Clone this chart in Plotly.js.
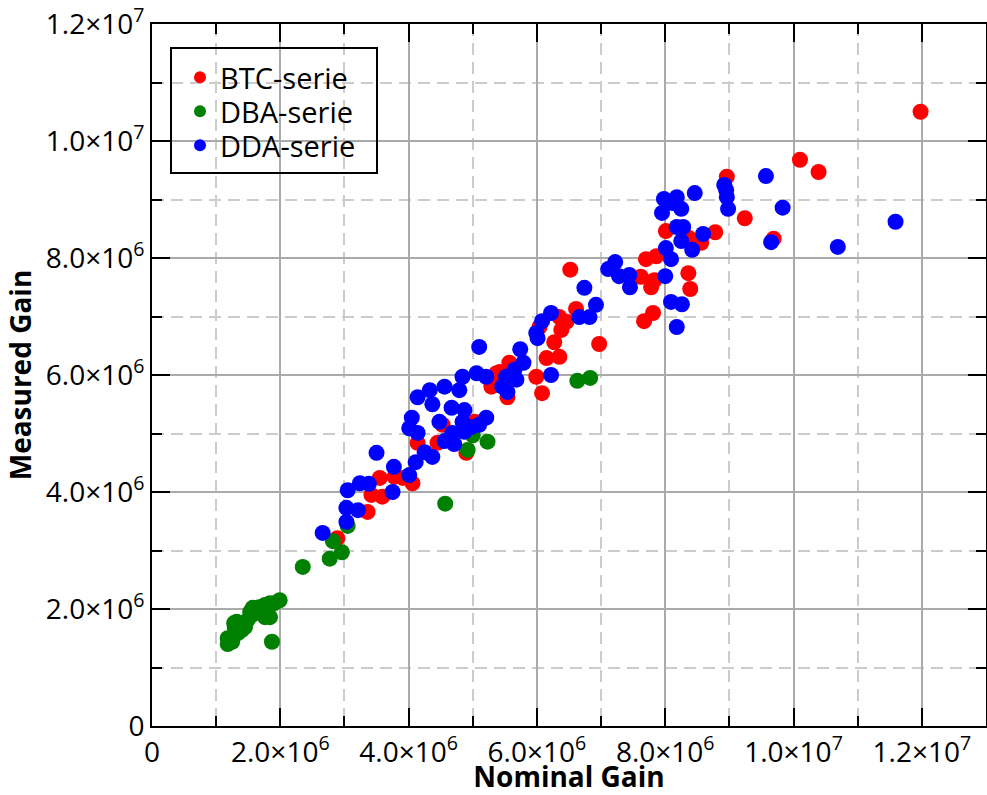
<!DOCTYPE html>
<html>
<head>
<meta charset="utf-8">
<script src="https://cdn.plot.ly/plotly-3.0.1.min.js"></script>
<style>
  html, body { margin: 0; padding: 0; background: #ffffff; }
  #chart { width: 987px; height: 795px; }
</style>
</head>
<body>
<div id="chart"></div>
<script>
// ---- Data ----
const seriesNames = ["BTC-serie", "DBA-serie", "DDA-serie"];

const btcNominal = [11.98e6, 10.10e6, 10.39e6, 8.96e6, 9.24e6, 9.69e6, 8.78e6, 8.01e6, 8.37e6, 8.56e6,
  7.70e6, 7.86e6, 6.52e6, 7.62e6, 7.83e6, 7.78e6, 8.36e6, 8.39e6, 7.67e6, 7.81e6,
  6.97e6, 6.61e6, 6.35e6, 6.46e6, 6.38e6, 6.27e6, 6.15e6, 6.35e6, 5.57e6, 5.99e6,
  6.08e6, 5.54e6, 6.04e6, 5.42e6, 5.37e6, 5.29e6, 5.03e6, 4.90e6, 4.53e6, 4.45e6,
  4.14e6, 3.55e6, 3.78e6, 3.91e6, 4.06e6, 3.42e6, 3.59e6, 3.36e6, 2.89e6];
const btcMeasured = [10.50e6, 9.68e6, 9.47e6, 9.39e6, 8.68e6, 8.33e6, 8.44e6, 8.46e6, 8.34e6, 8.26e6,
  7.98e6, 8.03e6, 7.80e6, 7.68e6, 7.62e6, 7.50e6, 7.74e6, 7.47e6, 6.92e6, 7.06e6,
  6.53e6, 7.13e6, 6.99e6, 6.91e6, 6.77e6, 6.56e6, 6.29e6, 6.31e6, 6.21e6, 5.97e6,
  5.69e6, 5.62e6, 6.82e6, 6.05e6, 6.03e6, 5.80e6, 5.20e6, 4.67e6, 5.15e6, 4.84e6,
  4.84e6, 4.24e6, 4.26e6, 4.24e6, 4.15e6, 3.95e6, 3.92e6, 3.66e6, 3.21e6];

const dbaNominal = [1.18e6, 1.18e6, 1.25e6, 1.28e6, 1.29e6, 1.32e6, 1.34e6, 1.40e6, 1.45e6, 1.49e6,
  1.53e6, 1.56e6, 1.57e6, 1.63e6, 1.68e6, 1.76e6, 1.76e6, 1.84e6, 1.84e6, 1.91e6,
  1.99e6, 1.87e6, 2.35e6, 2.77e6, 2.96e6, 2.82e6, 3.05e6, 4.57e6, 4.92e6, 5.23e6,
  5.00e6, 6.63e6, 6.83e6];
const dbaMeasured = [1.40e6, 1.50e6, 1.44e6, 1.76e6, 1.68e6, 1.78e6, 1.59e6, 1.64e6, 1.69e6, 1.81e6,
  1.95e6, 1.90e6, 2.02e6, 2.02e6, 2.03e6, 2.07e6, 1.86e6, 2.10e6, 1.86e6, 2.10e6,
  2.15e6, 1.44e6, 2.72e6, 2.86e6, 2.97e6, 3.16e6, 3.42e6, 3.80e6, 4.72e6, 4.86e6,
  4.97e6, 5.90e6, 5.95e6];

const ddaNominal = [9.57e6, 9.83e6, 11.59e6, 10.69e6, 9.65e6, 8.92e6, 8.95e6, 8.96e6, 8.98e6, 7.98e6,
  8.18e6, 8.25e6, 7.95e6, 8.11e6, 8.46e6, 8.18e6, 8.28e6, 8.25e6, 8.59e6, 8.01e6,
  8.42e6, 8.09e6, 8.00e6, 8.09e6, 8.26e6, 8.18e6, 7.22e6, 7.11e6, 7.28e6, 7.44e6,
  7.45e6, 6.74e6, 6.92e6, 6.82e6, 6.66e6, 6.22e6, 6.08e6, 6.01e6, 5.99e6, 5.74e6,
  5.79e6, 5.65e6, 5.52e6, 5.54e6, 6.22e6, 5.10e6, 5.68e6, 5.46e6, 5.21e6, 5.06e6,
  4.84e6, 4.79e6, 4.56e6, 4.33e6, 4.14e6, 4.37e6, 4.67e6, 4.87e6, 4.84e6, 4.48e6,
  4.05e6, 4.01e6, 4.14e6, 5.21e6, 5.10e6, 4.98e6, 4.87e6, 4.68e6, 4.56e6, 4.71e6,
  4.37e6, 4.25e6, 4.11e6, 4.01e6, 3.77e6, 3.50e6, 3.75e6, 3.38e6, 3.24e6, 3.05e6,
  3.03e6, 3.21e6, 3.03e6, 2.66e6];
const ddaMeasured = [9.40e6, 8.86e6, 8.62e6, 8.19e6, 8.27e6, 9.25e6, 9.16e6, 9.04e6, 8.84e6, 9.01e6,
  9.04e6, 8.84e6, 8.77e6, 8.94e6, 9.11e6, 8.53e6, 8.53e6, 8.29e6, 8.41e6, 8.17e6,
  8.14e6, 7.98e6, 7.69e6, 7.25e6, 7.21e6, 6.82e6, 7.93e6, 7.81e6, 7.69e6, 7.71e6,
  7.50e6, 7.49e6, 7.20e6, 6.99e6, 6.99e6, 7.06e6, 6.92e6, 6.63e6, 6.72e6, 6.44e6,
  6.21e6, 6.09e6, 5.97e6, 5.71e6, 6.00e6, 6.48e6, 5.92e6, 5.80e6, 5.97e6, 6.03e6,
  5.97e6, 5.74e6, 5.80e6, 5.74e6, 5.62e6, 5.50e6, 5.44e6, 5.40e6, 5.20e6, 5.20e6,
  5.27e6, 5.09e6, 5.01e6, 5.27e6, 5.15e6, 5.11e6, 5.03e6, 5.01e6, 4.87e6, 4.82e6,
  4.60e6, 4.68e6, 4.51e6, 4.29e6, 4.43e6, 4.67e6, 4.00e6, 4.14e6, 4.15e6, 4.03e6,
  3.73e6, 3.69e6, 3.49e6, 3.30e6];

const seriesColors = ["#ff0000", "#008000", "#0000ff"];

const xTickVals = [0, 2e6, 4e6, 6e6, 8e6, 1e7, 1.2e7];
const xTickText = ["0", "2.0×10<sup>6</sup>", "4.0×10<sup>6</sup>", "6.0×10<sup>6</sup>",
  "8.0×10<sup>6</sup>", "1.0×10<sup>7</sup>", "1.2×10<sup>7</sup>"];
const yTickVals = [0, 2e6, 4e6, 6e6, 8e6, 1e7, 1.2e7];
const yTickText = ["0", "2.0×10<sup>6</sup>", "4.0×10<sup>6</sup>", "6.0×10<sup>6</sup>",
  "8.0×10<sup>6</sup>", "1.0×10<sup>7</sup>", "1.2×10<sup>7</sup>"];

const xTitle = "Nominal Gain";
const yTitle = "Measured Gain";

// ---- Layout helpers (pixel geometry of the plot area) ----
const PLOT_L = 152, PLOT_T = 24, PLOT_W = 834, PLOT_H = 702;
const px2x = p => (p - PLOT_L) / PLOT_W;
const px2y = p => (PLOT_T + PLOT_H - p) / PLOT_H;

const FONT = "'Open Sans', 'Noto Sans', 'DejaVu Sans', sans-serif";

// one legend per series so that the row spacing matches the reference
const legendKeys = ["legend", "legend2", "legend3"];
const legendRowTops = [52, 86, 120];

const xs = [btcNominal, dbaNominal, ddaNominal];
const ys = [btcMeasured, dbaMeasured, ddaMeasured];
const traces = seriesNames.map((name, i) => ({
  type: "scatter",
  mode: "markers",
  name: name,
  legend: legendKeys[i],
  x: xs[i],
  y: ys[i],
  marker: { color: seriesColors[i], size: 16, line: { width: 0 } },
  hoverinfo: "skip"
}));

const axisCommon = {
  showline: true,
  linecolor: "#000000",
  linewidth: 2,
  mirror: "ticks",
  ticks: "inside",
  ticklen: 18,
  tickwidth: 2,
  tickcolor: "#000000",
  showgrid: true,
  gridcolor: "#aaaaaa",
  gridwidth: 2,
  zeroline: false,
  tickmode: "array",
  tickfont: { family: FONT, size: 28, color: "#000000" },
  minor: {
    dtick: 1e6,
    tick0: 0,
    ticks: "inside",
    ticklen: 10,
    tickwidth: 2,
    tickcolor: "#000000",
    showgrid: true,
    gridcolor: "#cccccc",
    gridwidth: 2,
    griddash: "12px,7px"
  }
};

const layout = {
  width: 987,
  height: 795,
  margin: { l: PLOT_L, r: 987 - PLOT_L - PLOT_W, t: PLOT_T, b: 795 - PLOT_T - PLOT_H, pad: 0 },
  paper_bgcolor: "#ffffff",
  plot_bgcolor: "#ffffff",
  showlegend: true,
  font: { family: FONT, color: "#000000" },
  xaxis: Object.assign({}, axisCommon, {
    range: [0, 1.3e7],
    tickvals: xTickVals,
    ticktext: xTickText,
    title: { text: xTitle, font: { family: FONT, size: 28, weight: 700, color: "#000000" }, standoff: 12 }
  }),
  yaxis: Object.assign({}, axisCommon, {
    range: [0, 1.2e7],
    tickvals: yTickVals,
    ticktext: yTickText,
    title: { text: yTitle, font: { family: FONT, size: 28, weight: 700, color: "#000000" }, standoff: 6 }
  }),
  shapes: [{
    type: "rect",
    xref: "paper", yref: "paper",
    x0: px2x(171), x1: px2x(377),
    y0: px2y(173), y1: px2y(48),
    line: { color: "#000000", width: 2 },
    fillcolor: "rgba(0,0,0,0)",
    layer: "above"
  }]
};

legendKeys.forEach((key, i) => {
  layout[key] = {
    x: px2x(180),
    y: px2y(legendRowTops[i]),
    xanchor: "left",
    yanchor: "top",
    bgcolor: "rgba(0,0,0,0)",
    borderwidth: 0,
    font: { family: FONT, size: 29, color: "#000000" },
    itemsizing: "constant"
  };
});

Plotly.newPlot("chart", traces, layout, { displayModeBar: false, staticPlot: true });
</script>
</body>
</html>
